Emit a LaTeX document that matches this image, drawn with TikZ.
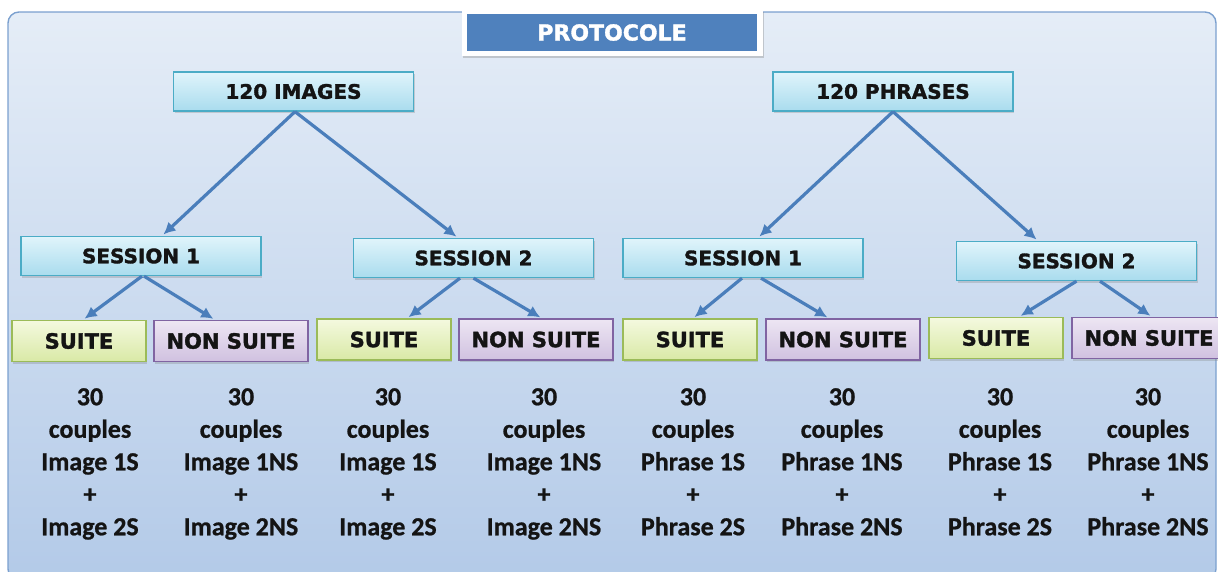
\documentclass[tikz,border=0pt]{standalone}
\usepackage{fontspec}
\setmainfont{DejaVu Sans}
\newfontfamily\boxfont[BoldFeatures={FakeBold=1.6}]{DejaVu Sans}
\newfontfamily\carlito[BoldFeatures={FakeBold=0.8}]{Carlito}
\usetikzlibrary{arrows.meta,positioning,shadows}

\definecolor{arrowblue}{HTML}{4A7EBB}
\definecolor{titleblue}{HTML}{4F81BD}
\definecolor{frameblue}{HTML}{7BA0CF}
\definecolor{bgtop}{HTML}{E5EDF7}
\definecolor{bgbottom}{HTML}{B3CAE8}
\definecolor{headtop}{HTML}{E0F4FB}
\definecolor{headbottom}{HTML}{A9DCEE}
\definecolor{headline}{HTML}{4BACC6}
\definecolor{suitetop}{HTML}{F4F9DF}
\definecolor{suitebottom}{HTML}{D9E9A6}
\definecolor{suiteline}{HTML}{9BBB59}
\definecolor{nontop}{HTML}{EDE6F3}
\definecolor{nonbottom}{HTML}{D0C1E0}
\definecolor{nonline}{HTML}{8064A2}

\begin{document}
\begin{tikzpicture}[x=1pt, y=-1pt,
  every node/.style={font=\bfseries},
  box/.style={draw, line width=1.3pt, inner sep=0pt, text=black!92,
    drop shadow={shadow xshift=1.2pt, shadow yshift=-2pt, opacity=0.3}},
  headbox/.style={box, draw=headline, top color=headtop, bottom color=headbottom,
    minimum width=240pt, minimum height=39pt, font=\boxfont\bfseries\fontsize{20}{24}\selectfont},
  suitebox/.style={box, draw=suiteline, top color=suitetop, bottom color=suitebottom,
    minimum width=134pt, minimum height=41pt, font=\boxfont\bfseries\fontsize{21}{25}\selectfont},
  nonbox/.style={box, draw=nonline, top color=nontop, bottom color=nonbottom,
    minimum width=154pt, minimum height=41pt, font=\boxfont\bfseries\fontsize{21}{25}\selectfont},
  pairs/.style={anchor=north, align=center, inner sep=0pt, text=black!92,
    font=\carlito\bfseries\fontsize{26}{32.5}\selectfont},
  arr/.style={-{Latex[length=12pt,width=12pt]}, line width=3.2pt, arrowblue, shorten >=2pt},
]
\useasboundingbox (0,0) rectangle (1218,571);

% background panel
\draw[frameblue, line width=1.4pt, rounded corners=11pt, top color=bgtop, bottom color=bgbottom]
  (8,12) rectangle (1216,580);

% title
\node[fill=white, minimum width=301pt, minimum height=46pt, inner sep=0pt,
  drop shadow={shadow xshift=1pt, shadow yshift=-2pt, opacity=0.35}] (frame) at (612.5,33) {};
\node[fill=titleblue, text=white, minimum width=290pt, minimum height=37pt, inner sep=0pt,
  font=\boxfont\bfseries\fontsize{22}{26}\selectfont] (title) at (612,32.5) {PROTOCOLE};

% first level
\node[headbox] (IMG) at (293.5,91.5) {120 IMAGES};
\node[headbox] (PHR) at (893,91.5) {120 PHRASES};

% sessions
\node[headbox] (S1a) at (141,256) {SESSION 1};
\node[headbox] (S2a) at (473.5,258) {SESSION 2};
\node[headbox] (S1b) at (743,258) {SESSION 1};
\node[headbox] (S2b) at (1076.5,261) {SESSION 2};

% suite / non suite
\node[suitebox] (Sa1) at (79,341) {SUITE};
\node[nonbox] (Na1) at (231,341) {NON SUITE};
\node[suitebox] (Sa2) at (384,339.5) {SUITE};
\node[nonbox] (Na2) at (536,339.5) {NON SUITE};
\node[suitebox] (Sb1) at (690,339.5) {SUITE};
\node[nonbox] (Nb1) at (843,339.5) {NON SUITE};
\node[suitebox] (Sb2) at (996,338) {SUITE};
\node[nonbox] (Nb2) at (1149,338) {NON SUITE};

% couples
\node[pairs] (tSa1) at (90,388) {30\\couples\\Image 1S\\+\\Image 2S};
\node[pairs] (tNa1) at (241,388) {30\\couples\\Image 1NS\\+\\Image 2NS};
\node[pairs] (tSa2) at (388,388) {30\\couples\\Image 1S\\+\\Image 2S};
\node[pairs] (tNa2) at (544,388) {30\\couples\\Image 1NS\\+\\Image 2NS};
\node[pairs] (tSb1) at (693,388) {30\\couples\\Phrase 1S\\+\\Phrase 2S};
\node[pairs] (tNb1) at (842,388) {30\\couples\\Phrase 1NS\\+\\Phrase 2NS};
\node[pairs] (tSb2) at (1000,388) {30\\couples\\Phrase 1S\\+\\Phrase 2S};
\node[pairs] (tNb2) at (1148,388) {30\\couples\\Phrase 1NS\\+\\Phrase 2NS};

% arrows
\draw[arr] ([xshift=1.5pt]IMG.south) -- ([xshift=21pt]S1a.north);
\draw[arr] ([xshift=1.5pt]IMG.south) -- ([xshift=-15.5pt]S2a.north);
\draw[arr] (PHR.south) -- ([xshift=15pt]S1b.north);
\draw[arr] (PHR.south) -- ([xshift=-38.5pt]S2b.north);

\draw[arr] ([xshift=1pt]S1a.south) -- ([xshift=4pt]Sa1.north);
\draw[arr] ([xshift=3pt]S1a.south) -- ([xshift=-16pt]Na1.north);
\draw[arr] ([xshift=-13.5pt]S2a.south) -- ([xshift=23pt]Sa2.north);
\draw[arr] (S2a.south) -- ([xshift=6pt]Na2.north);
\draw[arr] ([xshift=-1pt]S1b.south) -- ([xshift=3pt]Sb1.north);
\draw[arr] ([xshift=18pt]S1b.south) -- ([xshift=-14pt]Nb1.north);
\draw[arr] (S2b.south) -- ([xshift=23pt]Sb2.north);
\draw[arr] ([xshift=23.5pt]S2b.south) -- ([xshift=3pt]Nb2.north);
\end{tikzpicture}
\end{document}
